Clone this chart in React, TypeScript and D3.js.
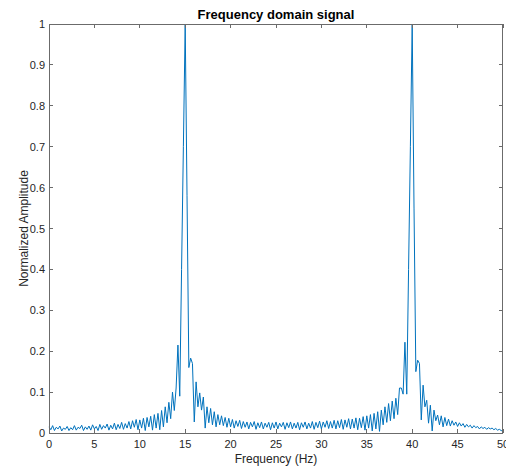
import React from "react";
import * as d3 from "d3";

// Normalized FFT amplitude, sampled every 0.2 Hz from 0 to 50 Hz (251 values)
const amplitude: number[] = [
  0.015, 0.008, 0.018, 0.006, 0.014,
  0.010, 0.017, 0.005, 0.012, 0.009,
  0.016, 0.006, 0.013, 0.008, 0.018,
  0.007, 0.014, 0.011, 0.019, 0.006,
  0.015, 0.009, 0.017, 0.007, 0.020,
  0.010, 0.016, 0.006, 0.021, 0.009,
  0.018, 0.012, 0.022, 0.007, 0.019,
  0.010, 0.024, 0.008, 0.021, 0.011,
  0.026, 0.009, 0.023, 0.012, 0.028,
  0.010, 0.030, 0.014, 0.033, 0.008,
  0.032, 0.012, 0.036, 0.006, 0.038,
  0.015, 0.041, 0.007, 0.045, 0.012,
  0.048, 0.008, 0.055, 0.015, 0.064,
  0.025, 0.075, 0.035, 0.100, 0.055,
  0.110, 0.215, 0.090, 0.400, 0.700,
  1.000, 0.580, 0.160, 0.183, 0.170,
  0.027, 0.125, 0.064, 0.098, 0.056,
  0.088, 0.012, 0.064, 0.025, 0.060,
  0.020, 0.052, 0.015, 0.045, 0.020,
  0.042, 0.018, 0.038, 0.014, 0.036,
  0.015, 0.033, 0.012, 0.030, 0.016,
  0.031, 0.011, 0.028, 0.014, 0.027,
  0.010, 0.026, 0.015, 0.028, 0.009,
  0.025, 0.013, 0.027, 0.010, 0.024,
  0.014, 0.026, 0.008, 0.025, 0.012,
  0.027, 0.010, 0.024, 0.015, 0.026,
  0.009, 0.025, 0.013, 0.027, 0.010,
  0.024, 0.012, 0.026, 0.008, 0.025,
  0.014, 0.027, 0.010, 0.024, 0.012,
  0.028, 0.009, 0.026, 0.013, 0.029,
  0.010, 0.027, 0.014, 0.030, 0.011,
  0.028, 0.012, 0.031, 0.010, 0.030,
  0.013, 0.033, 0.009, 0.032, 0.014,
  0.035, 0.010, 0.034, 0.012, 0.037,
  0.008, 0.036, 0.013, 0.040, 0.007,
  0.042, 0.012, 0.045, 0.005, 0.048,
  0.010, 0.052, 0.004, 0.056, 0.020,
  0.064, 0.026, 0.072, 0.030, 0.078,
  0.035, 0.085, 0.045, 0.110, 0.110,
  0.095, 0.222, 0.095, 0.400, 0.700,
  1.000, 0.550, 0.150, 0.178, 0.170,
  0.032, 0.117, 0.064, 0.080, 0.024,
  0.068, 0.005, 0.056, 0.030, 0.044,
  0.020, 0.042, 0.015, 0.038, 0.018,
  0.034, 0.017, 0.030, 0.019, 0.027,
  0.016, 0.025, 0.017, 0.023, 0.014,
  0.021, 0.015, 0.019, 0.012, 0.018,
  0.013, 0.016, 0.010, 0.015, 0.011,
  0.014, 0.009, 0.013, 0.010, 0.012,
  0.008, 0.011, 0.007, 0.009, 0.006,
  0.005,
];
const freqStep = 0.2;
const xTicks: number[] = [0, 5, 10, 15, 20, 25, 30, 35, 40, 45, 50];
const yTicks: number[] = [0, 0.1, 0.2, 0.3, 0.4, 0.5, 0.6, 0.7, 0.8, 0.9, 1];
const yTickLabels: string[] = ["0", "0.1", "0.2", "0.3", "0.4", "0.5", "0.6", "0.7", "0.8", "0.9", "1"];
const titleText = "Frequency domain signal";
const xLabelText = "Frequency (Hz)";
const yLabelText = "Normalized Amplitude";

const W = 506;
const H = 470;
const left = 49;
const right = 503;
const top = 24;
const bottom = 433;
const FONT = "'Liberation Sans', Arial, Helvetica, sans-serif";
const AXIS = "#6b6b6b";
const TEXT = "#262626";
const TICK = 4;

export default function App() {
  const x = d3.scaleLinear().domain([0, 50]).range([left, right]);
  const y = d3.scaleLinear().domain([0, 1]).range([bottom, top]);
  const pts: [number, number][] = amplitude.map((a, i) => [i * freqStep, a]);
  const line = d3
    .line<[number, number]>()
    .x((d) => x(d[0]))
    .y((d) => y(d[1]));

  return (
    <svg
      width={W}
      height={H}
      style={{ position: "absolute", left: 0, top: 0, background: "#fff" }}
      fontFamily={FONT}
    >
      <rect x={0} y={0} width={W} height={H} fill="#fff" />
      <path d={line(pts) || ""} fill="none" stroke="#0072BD" strokeWidth={1} strokeLinejoin="round" />
      {/* box */}
      <rect
        x={left + 0.5}
        y={top + 0.5}
        width={right - left - 1}
        height={bottom - top}
        fill="none"
        stroke={AXIS}
        strokeWidth={1}
        shapeRendering="crispEdges"
      />
      {xTicks.map((t) => (
        <g key={"x" + t}>
          <line x1={x(t)} x2={x(t)} y1={bottom} y2={bottom - TICK} stroke={AXIS} shapeRendering="crispEdges" />
          <line x1={x(t)} x2={x(t)} y1={top} y2={top + TICK} stroke={AXIS} shapeRendering="crispEdges" />
          <text x={x(t)} y={448} fontSize={11} fill={TEXT} textAnchor="middle">
            {t}
          </text>
        </g>
      ))}
      {yTicks.map((t, i) => (
        <g key={"y" + t}>
          <line x1={left} x2={left + TICK} y1={y(t)} y2={y(t)} stroke={AXIS} shapeRendering="crispEdges" />
          <line x1={right} x2={right - TICK} y1={y(t)} y2={y(t)} stroke={AXIS} shapeRendering="crispEdges" />
          <text x={45} y={y(t) + 4} fontSize={11} fill={TEXT} textAnchor="end">
            {yTickLabels[i]}
          </text>
        </g>
      ))}
      <text x={(left + right) / 2} y={19} fontSize={13} fontWeight="bold" fill="#000" textAnchor="middle">
        {titleText}
      </text>
      <text x={(left + right) / 2} y={463} fontSize={12} fill={TEXT} textAnchor="middle">
        {xLabelText}
      </text>
      <text
        transform={`translate(28, ${(top + bottom) / 2}) rotate(-90)`}
        fontSize={12}
        fill={TEXT}
        textAnchor="middle"
      >
        {yLabelText}
      </text>
    </svg>
  );
}
